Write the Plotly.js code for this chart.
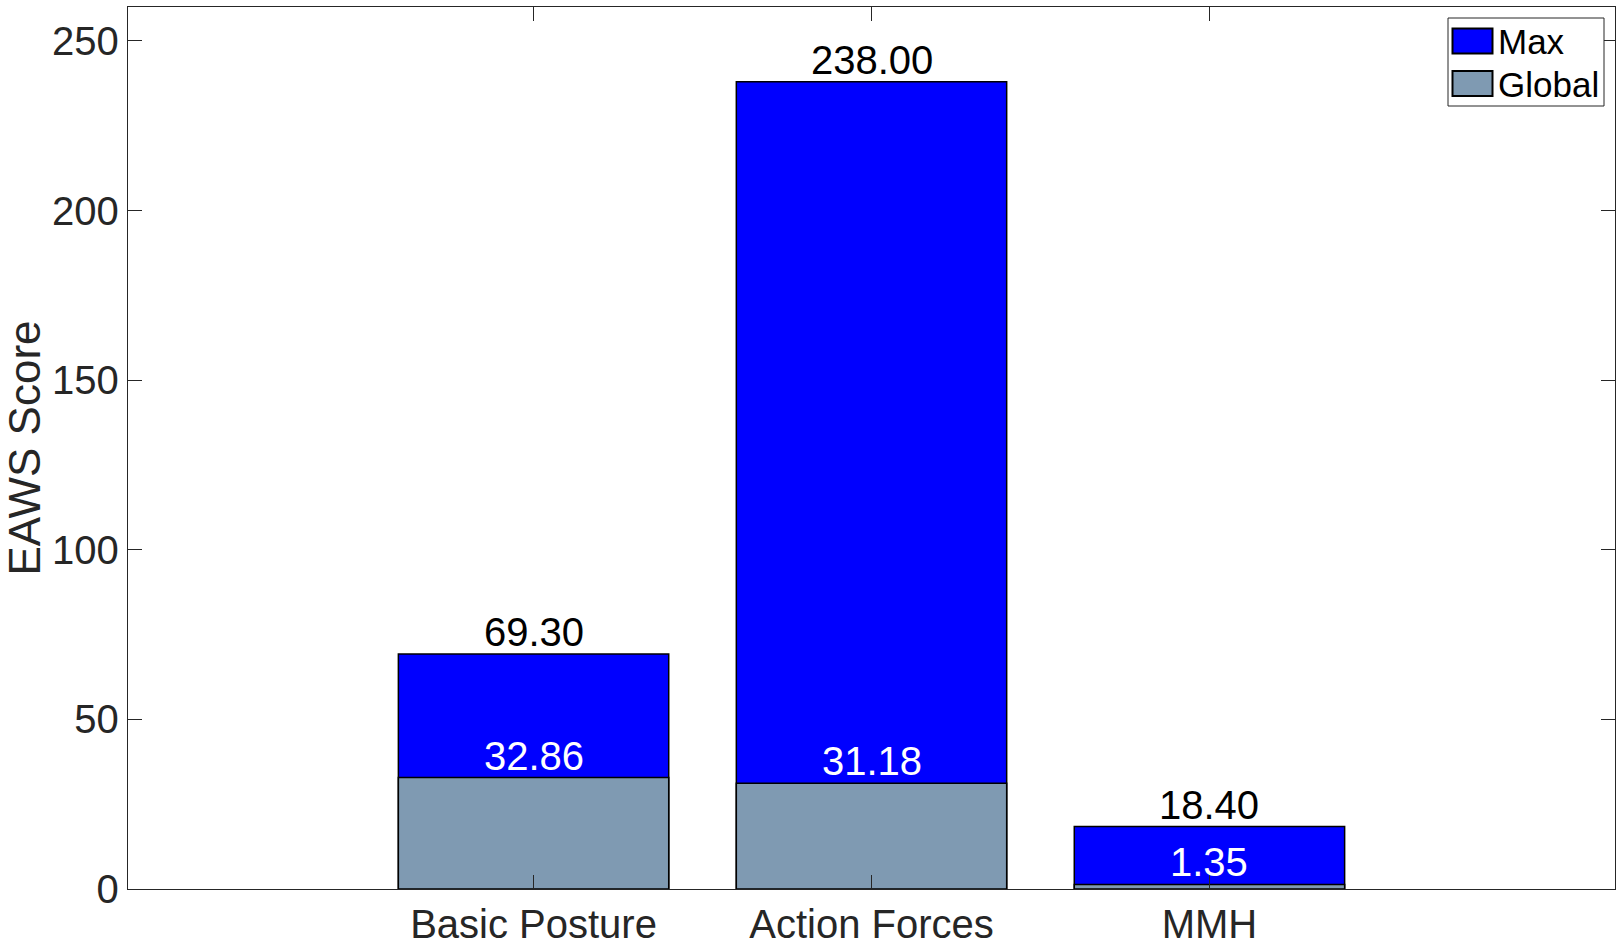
<!DOCTYPE html>
<html>
<head>
<meta charset="utf-8">
<script src="https://cdn.plot.ly/plotly-3.0.1.min.js"></script>
<style>html,body{margin:0;padding:0;background:#fff;}#chart{width:1622px;height:945px;}</style>
</head>
<body>
<div id="chart"></div>
<script>
const categories = ["Basic Posture", "Action Forces", "MMH"];
const maxValues = [69.30, 238.00, 18.40];
const globalValues = [32.86, 31.18, 1.35];
const seriesNames = ["Max", "Global"];
const seriesColors = ["#0000ff", "#7f9ab2"];
const yTickValues = [0, 50, 100, 150, 200, 250];

const FONT = "Liberation Sans, Arial, Helvetica, sans-serif";
const AXIS_COLOR = "#262626";

const W = 1622, H = 945;
const M = {l: 128, r: 7, t: 7, b: 56};
const PW = W - M.l - M.r, PH = H - M.t - M.b;
const px2x = p => (p - M.l) / PW;
const py2y = p => (H - M.b - p) / PH;

const traces = [
  {
    type: "bar", name: seriesNames[0], x: categories, y: maxValues,
    width: 0.8, showlegend: false,
    marker: {color: seriesColors[0], line: {color: "#000000", width: 1.5}},
    hoverinfo: "x+y"
  },
  {
    type: "bar", name: seriesNames[1], x: categories, y: globalValues,
    width: 0.8, showlegend: false,
    marker: {color: seriesColors[1], line: {color: "#000000", width: 1.5}},
    hoverinfo: "x+y"
  }
];

const annotations = [];
categories.forEach((c, i) => {
  annotations.push({
    x: c, y: maxValues[i], xref: "x", yref: "y",
    text: maxValues[i].toFixed(2), showarrow: false,
    yanchor: "bottom", xanchor: "center", yshift: -2,
    font: {family: FONT, size: 40, color: "#000000"}
  });
  annotations.push({
    x: c, y: globalValues[i], xref: "x", yref: "y",
    text: globalValues[i].toFixed(2), showarrow: false,
    yanchor: "bottom", xanchor: "center", yshift: -2,
    font: {family: FONT, size: 40, color: "#ffffff"}
  });
});

// Custom legend (MATLAB style, large swatches)
const shapes = [];
const legBox = {x0: 1448, x1: 1604, y0: 18, y1: 106};
shapes.push({
  type: "rect", xref: "paper", yref: "paper",
  x0: px2x(legBox.x0), x1: px2x(legBox.x1), y0: py2y(legBox.y1), y1: py2y(legBox.y0),
  fillcolor: "#ffffff", line: {color: AXIS_COLOR, width: 1}, layer: "above"
});
const rowCenters = [41, 83.5];
seriesNames.forEach((name, i) => {
  const cy = rowCenters[i];
  shapes.push({
    type: "rect", xref: "paper", yref: "paper",
    x0: px2x(1452.5), x1: px2x(1492.5), y0: py2y(cy + 12.5), y1: py2y(cy - 12.5),
    fillcolor: seriesColors[i], line: {color: "#000000", width: 2}, layer: "above"
  });
  annotations.push({
    xref: "paper", yref: "paper", x: px2x(1496), y: py2y(cy + 1),
    xanchor: "left", yanchor: "middle", showarrow: false,
    text: name, font: {family: FONT, size: 35, color: "#000000"}
  });
});

const layout = {
  width: W, height: H,
  margin: {l: M.l, r: M.r, t: M.t, b: M.b, autoexpand: false},
  paper_bgcolor: "#ffffff", plot_bgcolor: "#ffffff",
  barmode: "overlay",
  font: {family: FONT, color: AXIS_COLOR},
  showlegend: false,
  xaxis: {
    type: "category",
    range: [-1.2, 3.2],
    showline: true, linecolor: AXIS_COLOR, linewidth: 1.3,
    mirror: "ticks",
    ticks: "inside", ticklen: 14, tickwidth: 1, tickcolor: AXIS_COLOR,
    tickfont: {family: FONT, size: 40, color: AXIS_COLOR},
    showgrid: false, zeroline: false, fixedrange: true
  },
  yaxis: {
    range: [0, 260],
    tickvals: yTickValues,
    ticktext: yTickValues.map(String),
    showline: true, linecolor: AXIS_COLOR, linewidth: 1.3,
    mirror: "ticks",
    ticks: "inside", ticklen: 14, tickwidth: 1, tickcolor: AXIS_COLOR,
    tickfont: {family: FONT, size: 40, color: AXIS_COLOR},
    showgrid: false, zeroline: false, fixedrange: true,
    title: {text: "EAWS Score", font: {family: FONT, size: 44, color: AXIS_COLOR}, standoff: 22}
  },
  shapes: shapes,
  annotations: annotations
};

Plotly.newPlot("chart", traces, layout, {displayModeBar: false, staticPlot: true});
</script>
</body>
</html>
